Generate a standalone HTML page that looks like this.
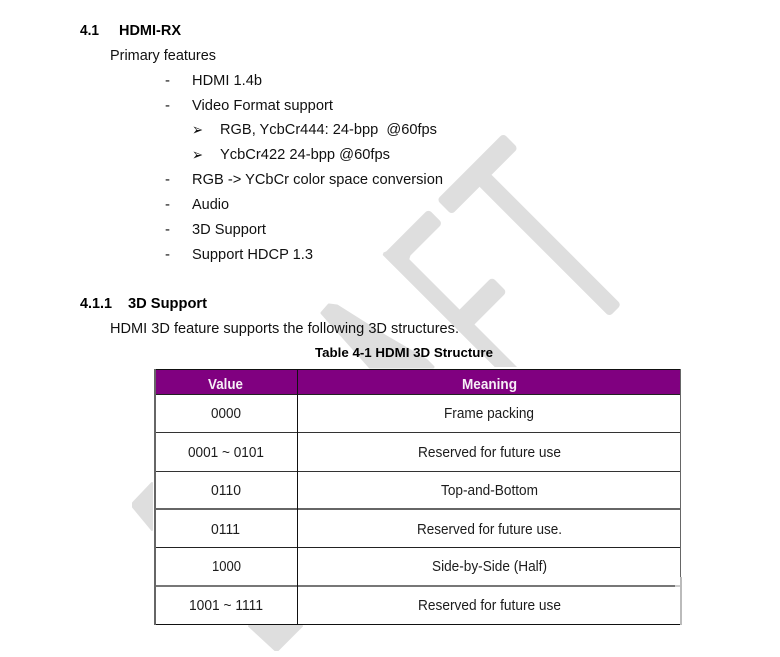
<!DOCTYPE html>
<html>
<head>
<meta charset="utf-8">
<style>
html,body{margin:0;padding:0;background:#fff;width:780px;height:657px;overflow:hidden}
svg{display:block}
text{font-family:"Liberation Sans",sans-serif;fill:#111}
.n{font-size:15px}
.b{font-size:14.6px;font-weight:bold;fill:#000}
.c{font-size:14.4px;fill:#1c1c1c}
.h{font-size:14.6px;font-weight:bold;fill:#f6eef6}
.t{filter:blur(0.25px)}
</style>
</head>
<body>
<svg width="780" height="657" viewBox="0 0 780 657" xmlns="http://www.w3.org/2000/svg">
<rect width="780" height="657" fill="#fff"/>
<g fill="#dedede">
  <!-- T -->
  <rect transform="translate(477.5,174) rotate(-45)" x="-47" y="-10.5" width="94" height="21" rx="4"/>
  <rect transform="translate(486.7,182) rotate(45)" x="-5" y="-8.5" width="187" height="17" rx="4"/>
  <!-- F -->
  <rect transform="translate(435.5,216.3) rotate(135)" x="0" y="-10" width="64.5" height="20" rx="4"/>
  <polygon points="383.5,252.5 382.7,255 494.7,367 517,367 409.3,259.3 415,240"/>
  <rect transform="translate(499.5,284.5) rotate(135)" x="0" y="-10.5" width="50" height="21" rx="4"/>
  <!-- A -->
  <polygon points="322,313 329,305 337,306 383,335 426,360 433,367 370,367" stroke="#dedede" stroke-width="3" stroke-linejoin="round"/>
  <!-- R / D fragments -->
  <polygon points="152,483 133,503 133,507 152,530"  stroke="#dedede" stroke-width="2" stroke-linejoin="round"/>
  <polygon points="249,626 302,626 278,650 275,650" stroke="#dedede" stroke-width="2" stroke-linejoin="round"/>
</g>

<!-- table -->
<rect x="154" y="369" width="527" height="256" fill="#fff"/>
<rect x="154" y="369" width="527" height="25" fill="#800080"/>
<g stroke-width="1" fill="none" shape-rendering="crispEdges">
  <path d="M154 369.5H681" stroke="#111"/>
  <path d="M154 394.5H681" stroke="#222"/>
  <path d="M154 432.5H681" stroke="#333"/>
  <path d="M154 471.5H681" stroke="#333"/>
  <path d="M154 509H681" stroke="#666" stroke-width="2"/>
  <path d="M154 547.5H681" stroke="#222"/>
  <path d="M154 586H675" stroke="#777" stroke-width="2"/>
  <path d="M675 586H681" stroke="#ccc" stroke-width="2"/>
  <path d="M154 624.5H680" stroke="#111"/>
  <path d="M155 369V625" stroke="#666" stroke-width="2"/>
  <path d="M297.5 369V625" stroke="#111"/>
  <path d="M680.5 369V577" stroke="#666"/>
  <path d="M681 577V625" stroke="#bbb" stroke-width="2"/>
</g>

<g class="t">
<text class="b" x="80" y="35" textLength="19" lengthAdjust="spacingAndGlyphs">4.1</text>
<text class="b" x="119" y="35" textLength="62" lengthAdjust="spacingAndGlyphs">HDMI-RX</text>
<text class="n" x="110" y="60" textLength="106" lengthAdjust="spacingAndGlyphs">Primary features</text>
<text class="n" x="165" y="85">-</text>
<text class="n" x="192" y="85" textLength="70" lengthAdjust="spacingAndGlyphs">HDMI 1.4b</text>
<text class="n" x="165" y="110">-</text>
<text class="n" x="192" y="110" textLength="141" lengthAdjust="spacingAndGlyphs">Video Format support</text>
<text x="192" y="135" style="font-family:'DejaVu Sans',sans-serif;font-size:16px;font-weight:bold" textLength="11" lengthAdjust="spacingAndGlyphs">➢</text>
<text class="n" x="220" y="134" textLength="217" lengthAdjust="spacingAndGlyphs" xml:space="preserve">RGB, YcbCr444: 24-bpp  @60fps</text>
<text x="192" y="160" style="font-family:'DejaVu Sans',sans-serif;font-size:16px;font-weight:bold" textLength="11" lengthAdjust="spacingAndGlyphs">➢</text>
<text class="n" x="220" y="159" textLength="170" lengthAdjust="spacingAndGlyphs">YcbCr422 24-bpp @60fps</text>
<text class="n" x="165" y="184">-</text>
<text class="n" x="192" y="184" textLength="251" lengthAdjust="spacingAndGlyphs">RGB -&gt; YCbCr color space conversion</text>
<text class="n" x="165" y="209">-</text>
<text class="n" x="192" y="209" textLength="37" lengthAdjust="spacingAndGlyphs">Audio</text>
<text class="n" x="165" y="234">-</text>
<text class="n" x="192" y="234" textLength="74" lengthAdjust="spacingAndGlyphs">3D Support</text>
<text class="n" x="165" y="259">-</text>
<text class="n" x="192" y="259" textLength="121" lengthAdjust="spacingAndGlyphs">Support HDCP 1.3</text>

<text class="b" x="80" y="308" textLength="32" lengthAdjust="spacingAndGlyphs">4.1.1</text>
<text class="b" x="128" y="308" textLength="79" lengthAdjust="spacingAndGlyphs">3D Support</text>
<text class="n" x="110" y="333" textLength="349" lengthAdjust="spacingAndGlyphs">HDMI 3D feature supports the following 3D structures.</text>
<text class="b" x="315" y="357" textLength="178" lengthAdjust="spacingAndGlyphs" style="font-size:13px">Table 4-1 HDMI 3D Structure</text>

<text class="h" x="208" y="389" textLength="35" lengthAdjust="spacingAndGlyphs">Value</text>
<text class="h" x="462" y="389" textLength="55" lengthAdjust="spacingAndGlyphs">Meaning</text>

<text class="c" x="211" y="418" textLength="30" lengthAdjust="spacingAndGlyphs">0000</text>
<text class="c" x="444" y="418" textLength="90" lengthAdjust="spacingAndGlyphs">Frame packing</text>
<text class="c" x="188" y="457" textLength="76" lengthAdjust="spacingAndGlyphs">0001 ~ 0101</text>
<text class="c" x="418" y="457" textLength="143" lengthAdjust="spacingAndGlyphs">Reserved for future use</text>
<text class="c" x="211" y="495" textLength="30" lengthAdjust="spacingAndGlyphs">0110</text>
<text class="c" x="441" y="495" textLength="97" lengthAdjust="spacingAndGlyphs">Top-and-Bottom</text>
<text class="c" x="211" y="534" textLength="29" lengthAdjust="spacingAndGlyphs">0111</text>
<text class="c" x="417" y="534" textLength="145" lengthAdjust="spacingAndGlyphs">Reserved for future use.</text>
<text class="c" x="212" y="571" textLength="29" lengthAdjust="spacingAndGlyphs">1000</text>
<text class="c" x="432" y="571" textLength="115" lengthAdjust="spacingAndGlyphs">Side-by-Side (Half)</text>
<text class="c" x="189" y="610" textLength="74" lengthAdjust="spacingAndGlyphs">1001 ~ 1111</text>
<text class="c" x="418" y="610" textLength="143" lengthAdjust="spacingAndGlyphs">Reserved for future use</text>
</g>
</svg>
</body>
</html>
